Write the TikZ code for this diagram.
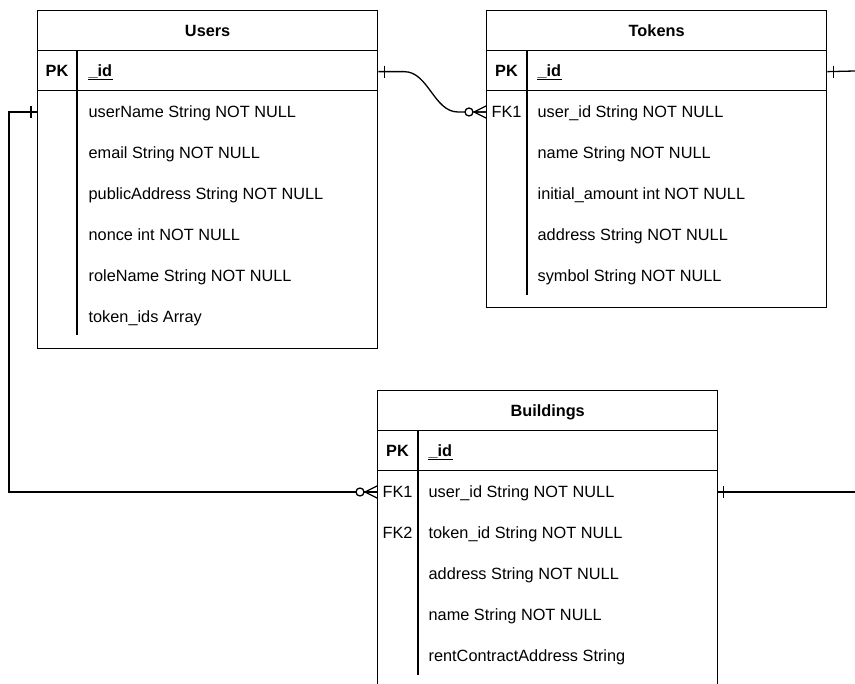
\documentclass[tikz,border=0pt]{standalone}
\usepackage{fontspec}
\setmainfont{Liberation Sans}
\usetikzlibrary{calc}
\tikzset{
  box/.style={draw, rectangle, minimum width=340pt, inner sep=0pt, anchor=north west},
  rowbox/.style={rectangle, minimum width=340pt, minimum height=41pt, inner sep=0pt, anchor=west},
  txt/.style={font=\fontsize{16.3}{19}\selectfont, inner sep=0pt, anchor=base west},
  keytxt/.style={font=\fontsize{16.3}{19}\selectfont, inner sep=0pt, anchor=base},
  boldtxt/.style={font=\fontsize{16.3}{19}\selectfont\bfseries, inner sep=0pt, anchor=base},
  idtxt/.style={font=\fontsize{16.3}{19}\selectfont\bfseries, inner sep=0pt, anchor=base west},
  onebar/.pic={\draw (0,-6) -- (0,6);},
  zeromany/.pic={\draw[fill=white] (-17,0) circle[radius=4pt];
                 \draw (-12,0) -- (0,-6) (-12,0) -- (0,0) (-12,0) -- (0,6);}
}
\begin{document}
\begin{tikzpicture}[x=1pt,y=-1pt,line width=1.3pt]
\useasboundingbox (0,0) rectangle (855,684);
\clip (0,0) rectangle (855,684);
\fill[white] (0,0) rectangle (855,684);

% ---------- Users ----------
\node[box, minimum height=40pt] (uh) at (37,10) {};
\node[box, minimum height=40pt] (upk) at (37,50) {};
\node[box, minimum height=258pt] (ub) at (37,90) {};
\draw (77,50) -- (77,335);
\node[boldtxt] at ($(uh.center)+(0,6)$) {Users};
\node[boldtxt] at (57,76.5) {PK};
\node[idtxt] (uid) at (88,76.5) {\_id};
\draw[line width=1pt] ($(uid.base west)+(0,3.5)$) -- ($(uid.base east)+(0,3.5)$);
\foreach \i/\t [count=\k] in {112/userName String NOT NULL,153/email String NOT NULL,194/publicAddress String NOT NULL,235/nonce int NOT NULL,276/roleName String NOT NULL,317/token\_ids Array}{
  \node[rowbox] (u\k) at (37,\i) {};
  \node[txt] at (88,\i+6) {\t};
}

% ---------- Tokens ----------
\node[box, minimum height=40pt] (th) at (486,10) {};
\node[box, minimum height=40pt] (tpk) at (486,50) {};
\node[box, minimum height=217pt] (tb) at (486,90) {};
\draw (527,50) -- (527,295);
\node[boldtxt] at ($(th.center)+(0,6)$) {Tokens};
\node[boldtxt] at (506.5,76.5) {PK};
\node[idtxt] (tid) at (537,76.5) {\_id};
\draw[line width=1pt] ($(tid.base west)+(0,3.5)$) -- ($(tid.base east)+(0,3.5)$);
\foreach \i/\t [count=\k] in {112/user\_id String NOT NULL,153/name String NOT NULL,194/initial\_amount int NOT NULL,235/address String NOT NULL,276/symbol String NOT NULL}{
  \node[rowbox] (t\k) at (486,\i) {};
  \node[txt] at (537,\i+6) {\t};
}
\node[keytxt] at (506.5,118) {FK1};

% ---------- Buildings ----------
\node[box, minimum height=40pt] (bh) at (377,390) {};
\node[box, minimum height=40pt] (bpk) at (377,430) {};
\node[box, minimum height=258pt] (bb) at (377,470) {};
\draw (418,430) -- (418,675);
\node[boldtxt] at ($(bh.center)+(0,6)$) {Buildings};
\node[boldtxt] at (397.5,456.5) {PK};
\node[idtxt] (bid) at (428,456.5) {\_id};
\draw[line width=1pt] ($(bid.base west)+(0,3.5)$) -- ($(bid.base east)+(0,3.5)$);
\foreach \i/\t [count=\k] in {492/user\_id String NOT NULL,533/token\_id String NOT NULL,574/address String NOT NULL,615/name String NOT NULL,656/rentContractAddress String}{
  \node[rowbox] (b\k) at (377,\i) {};
  \node[txt] at (428,\i+6) {\t};
}
\node[keytxt] at (397.5,498) {FK1};
\node[keytxt] at (397.5,539) {FK2};

% ---------- Connectors ----------
\coordinate (tout) at (855,71);
\coordinate (bout) at (855,492);

% Users._id -> Tokens.user_id
\draw ($(upk.east)+(0,1)$) -- ++(26,0)
  .. controls ++(24,0) and ($(t1.west)+(-52,0)$) .. ($(t1.west)+(-28,0)$) -- (t1.west);
\pic at ($(upk.east)+(6,1)$) {onebar};
\pic at (t1.west) {zeromany};

% Users -> Buildings.user_id
\draw (u1.west) -- ($(u1.west)+(-28,0)$) |- (b1.west);
\pic at ($(u1.west)+(-6,0)$) {onebar};
\pic at (b1.west) {zeromany};

% Tokens._id -> off picture
\draw ($(tpk.east)+(0,1)$) -- (tout);
\pic at ($(tpk.east)+(6,1)$) {onebar};

% Buildings.user_id -> off picture
\draw (b1.east) -- (bout);
\pic at ($(b1.east)+(5,0)$) {onebar};
\end{tikzpicture}
\end{document}
